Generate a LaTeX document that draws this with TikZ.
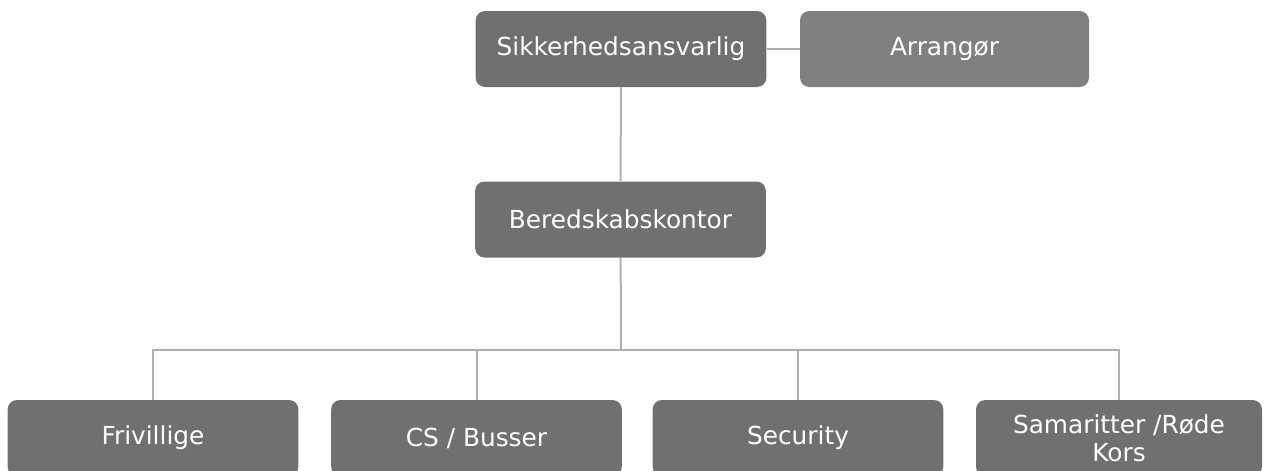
\documentclass[tikz,border=0pt]{standalone}
\usepackage{fontspec}
\setmainfont{DejaVu Sans}
\definecolor{boxGray}{HTML}{707070}
\definecolor{sideGray}{HTML}{808080}
\definecolor{lineGray}{HTML}{B0B0B0}
\begin{document}
\begin{tikzpicture}[
        x=0.75pt, y=-0.75pt,
        boxNode/.style={rectangle, rounded corners=7pt, fill=boxGray, text=white,
            minimum width=218pt, minimum height=57pt, inner sep=2pt, align=center,
            font=\fontsize{18.6}{21}\selectfont},
        sideNode/.style={boxNode, fill=sideGray, minimum width=216.75pt},
        link/.style={draw=lineGray, line width=1.5pt}
    ]
        \useasboundingbox (0,0) rectangle (1265,471);
        \clip (0,0) rectangle (1265,471);

        % Top row
        \node[boxNode] (sik) at (621,49) {Sikkerhedsansvarlig};
        \node[sideNode] (arr) at (944.5,49) {Arrangør};

        % Middle
        \node[boxNode] (ber) at (620.5,219.5) {Beredskabskontor};

        % Bottom row
        \node[boxNode] (fri) at (153,438) {Frivillige};
        \node[boxNode] (cs) at (476.5,438) {CS / Busser};
        \node[boxNode] (sec) at (798,438) {Security};
        \node[boxNode, minimum width=214.5pt] (sam) at (1119,438) {Samaritter /Røde\\Kors};

        % Bus point
        \coordinate (bus) at (621,350);

        % Edges
        \draw[link] (sik) -- (arr);
        \draw[link] (sik) -- (ber);
        \draw[link] (ber) -- (bus);
        \draw[link] (bus) -| (fri);
        \draw[link] (bus) -| (cs);
        \draw[link] (bus) -| (sec);
        \draw[link] (bus) -| (sam);
    \end{tikzpicture}
\end{document}
